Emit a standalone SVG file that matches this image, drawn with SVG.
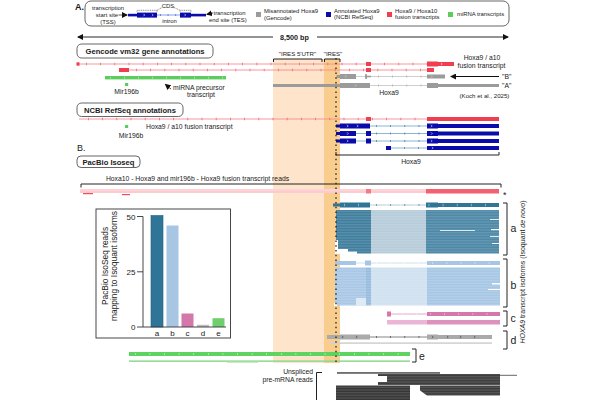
<svg xmlns="http://www.w3.org/2000/svg" width="600" height="400" viewBox="0 0 600 400">
<defs>
<style>
text{font-family:"Liberation Sans",Arial,sans-serif;fill:#1a1a1a}
.lg{font-size:5.9px}
.t7{font-size:6.8px}
.t6{font-size:6.1px}
.b{font-weight:bold}
.ttl{font-size:7.6px;font-weight:bold}
.sbox{fill:#fff;stroke:#555;stroke-width:0.9}
.red{fill:#ef3e4f}
.redL{stroke:#f48d97;stroke-width:0.9;fill:none}
.redT{stroke:#f06a78;stroke-width:2.4;stroke-dasharray:0.8 13.4;fill:none}
.blu{fill:#0b0bab}
.bluL{stroke:#7eaecb;stroke-width:0.9;fill:none}
.bluT{stroke:#4f7fb8;stroke-width:2.2;stroke-dasharray:0.8 13.4;fill:none}
.gry{fill:#9b9b9b}
.gryL{stroke:#c9c9c9;stroke-width:0.9;fill:none}
.gryT{stroke:#b0b0b0;stroke-width:2.2;stroke-dasharray:0.8 13.4;fill:none}
.grn{fill:#5ccc5c}
.wT{stroke:#fff;stroke-width:2.4;stroke-dasharray:0.7 13.4;fill:none}
.brk{stroke:#222;stroke-width:1;fill:none}
.lab{font-size:10.5px}
.ax{font-size:8px}
</style>
<marker id="ah" markerWidth="6" markerHeight="6" refX="5" refY="3" orient="auto" markerUnits="userSpaceOnUse">
<path d="M0,0 L6,3 L0,6 Z" fill="#111"/>
</marker>
<pattern id="strp" width="4" height="1.6" patternUnits="userSpaceOnUse">
<rect width="4" height="0.45" fill="#fff" fill-opacity="0.28"/>
</pattern>
</defs>

<!-- shaded IRES regions -->
<g id="ires-shading">
<rect x="273" y="59" width="51" height="304" fill="#fde4cb"/>
<rect x="324" y="59" width="16" height="304" fill="#f9cd8e"/>
</g>

<!-- Legend -->
<g id="legend">
<text x="75" y="10" font-size="9px" class="b" font-weight="bold">A.</text>
<rect x="85" y="1" width="424" height="25" rx="6" class="sbox"/>
<text class="lg" x="108" y="9.5" text-anchor="middle">transcription</text>
<text class="lg" x="107" y="16.8" text-anchor="middle">start site</text>
<text class="lg" x="108" y="24" text-anchor="middle">(TSS)</text>
<line x1="118.5" y1="15" x2="127" y2="15" stroke="#111" stroke-width="0.7" marker-end="url(#ah)"/>
<rect x="128" y="13.8" width="9" height="2.6" class="blu"/>
<rect x="137" y="12.6" width="20" height="5" class="blu"/>
<line x1="157" y1="15" x2="180" y2="15" stroke="#6f88e6" stroke-width="0.8"/>
<line x1="160" y1="15" x2="180" y2="15" stroke="#4a5ee0" stroke-width="2" stroke-dasharray="0.7 7"/>
<rect x="180" y="12.6" width="11" height="5" class="blu"/>
<rect x="191" y="13.8" width="15" height="2.6" class="blu"/>
<path d="M143.5 13.8l1.2 1.2l-1.2 1.2M152 13.8l1.2 1.2l-1.2 1.2M184.5 13.8l1.2 1.2l-1.2 1.2" stroke="#fff" stroke-width="0.6" fill="none"/>
<path d="M137 11.6V10.3H157V11.6M157 10.3L162 7.5M174 7.5L180 10.3M180 11.6V10.3H191V11.6" stroke="#333" stroke-width="0.6" stroke-dasharray="1 0.8" fill="none"/>
<text class="lg" x="168" y="8.3" text-anchor="middle">CDS</text>
<text class="lg" x="169.5" y="23" text-anchor="middle">intron</text>
<line x1="213" y1="13" x2="207" y2="14.3" stroke="#111" stroke-width="0.7" marker-end="url(#ah)"/>
<text class="lg" x="213.5" y="14.5">transcription</text>
<text class="lg" x="209" y="21.5">end site (TES)</text>
<rect x="256" y="12" width="5" height="5" class="gry"/>
<text class="lg" x="264" y="13">Misannotated Hoxa9</text>
<text class="lg" x="264" y="20">(Gencode)</text>
<rect x="326" y="12" width="5" height="5" class="blu"/>
<text class="lg" x="334" y="12.5">Annotated Hoxa9</text>
<text class="lg" x="334" y="19">(NCBI RefSeq)</text>
<rect x="387" y="12" width="5" height="5" class="red"/>
<text class="lg" x="395" y="12.5">Hoxa9 / Hoxa10</text>
<text class="lg" x="395" y="19">fusion transcripts</text>
<rect x="448" y="12" width="5" height="5" class="grn"/>
<text class="lg" x="457" y="16">miRNA transcripts</text>
</g>

<!-- Scale bar -->
<g id="scale">
<line x1="273" y1="37" x2="78" y2="37" stroke="#111" stroke-width="0.9" marker-end="url(#ah)"/>
<line x1="317" y1="37" x2="508" y2="37" stroke="#111" stroke-width="0.9" marker-end="url(#ah)"/>
<text x="294.5" y="39.6" font-size="7.2px" font-weight="bold" text-anchor="middle">8,500 bp</text>
</g>

<!-- Gencode section -->
<g id="gencode">
<rect x="77" y="44" width="136" height="14" rx="4.5" class="sbox"/>
<text class="ttl" x="145" y="53.8" text-anchor="middle">Gencode vm32 gene annotations</text>
<!-- red row 1 -->
<line x1="78" y1="64" x2="427" y2="64" class="redL"/>
<line x1="86" y1="64" x2="427" y2="64" class="redT"/>
<rect x="76.5" y="62.3" width="3" height="3.4" class="red"/>
<rect x="366" y="62" width="5" height="4" class="red"/>
<rect x="427" y="61.5" width="11" height="5" class="red"/>
<rect x="438" y="62" width="16" height="4" class="red"/>
<path d="M441 62.8l1.2 1.2l-1.2 1.2" stroke="#fff" stroke-width="0.6" fill="none"/>
<!-- red row 2 -->
<line x1="129" y1="70" x2="427" y2="70" class="redL"/>
<line x1="136" y1="70" x2="427" y2="70" class="redT"/>
<rect x="119" y="68" width="10" height="4" class="red"/>
<rect x="366" y="68" width="5" height="4" class="red"/>
<rect x="427" y="68" width="7" height="4" class="red"/>
<!-- green miRNA precursor -->
<rect x="105" y="76" width="121" height="3.4" class="grn"/>
<line x1="110" y1="77.7" x2="226" y2="77.7" stroke="#fff" stroke-width="2" stroke-dasharray="0.6 13.4" stroke-opacity="0.7"/>
<rect x="125" y="83" width="3.2" height="3" class="grn"/>
<text class="t7" x="126.5" y="93.5" text-anchor="middle">Mir196b</text>
<line x1="171" y1="89" x2="165.5" y2="84.5" stroke="#111" stroke-width="0.8" marker-end="url(#ah)"/>
<text class="t7" x="173" y="89.5">miRNA precursor</text>
<text class="t7" x="201" y="97" text-anchor="middle">transcript</text>
<!-- gray B -->
<line x1="356" y1="76.5" x2="427" y2="76.5" class="gryL"/>
<line x1="378" y1="76.5" x2="427" y2="76.5" class="gryT"/>
<rect x="336.5" y="75" width="4" height="3" class="gry"/>
<rect x="340" y="74" width="16" height="5" class="gry"/>
<path d="M365 74.3h2v1.4h4v1.6h-4v1.4h-2Z" class="gry"/>
<rect x="427" y="74.5" width="18" height="4" class="gry"/>
<path d="M345 75.3l1.2 1.2l-1.2 1.2M431 75.3l1.2 1.2l-1.2 1.2" stroke="#ddd" stroke-width="0.6" fill="none"/>
<!-- gray A -->
<rect x="273" y="84" width="67" height="3" class="gry"/>
<line x1="370" y1="85.5" x2="427" y2="85.5" class="gryL"/>
<line x1="378" y1="85.5" x2="427" y2="85.5" class="gryT"/>
<rect x="340" y="83" width="30" height="5" class="gry"/>
<rect x="427" y="83" width="11" height="5" class="gry"/>
<rect x="438" y="84" width="61" height="3" class="gry"/>
<path d="M355 84.3l1.2 1.2l-1.2 1.2" stroke="#ddd" stroke-width="0.6" fill="none"/>
<text class="t7" x="389" y="94.5" text-anchor="middle">Hoxa9</text>
<text class="t7" x="482" y="60" text-anchor="middle">Hoxa9 / a10</text>
<text class="t7" x="481.5" y="68" text-anchor="middle">fusion transcript</text>
<text class="t7" x="502" y="79">"B"</text>
<text class="t7" x="502" y="88">"A"</text>
<text class="t6" x="484.5" y="98" text-anchor="middle">(Koch et al., 2025)</text>
<text class="t6" x="297.5" y="56" text-anchor="middle">"IRES 5'UTR"</text>
<text class="t6" x="333" y="56" text-anchor="middle">"IRES"</text>
</g>

<!-- NCBI section -->
<g id="ncbi">
<rect x="77" y="103" width="106" height="13.5" rx="4.5" class="sbox"/>
<text class="ttl" x="130" y="112.5" text-anchor="middle">NCBI RefSeq annotations</text>
<line x1="79" y1="119" x2="427" y2="119" class="redL"/>
<line x1="88" y1="119" x2="427" y2="119" class="redT"/>
<rect x="366" y="117" width="5" height="4" class="red"/>
<rect x="427" y="117" width="6" height="4" class="red"/>
<rect x="433" y="117" width="66" height="4" class="red"/>
<rect x="125" y="125" width="3.2" height="3" class="grn"/>
<text class="t7" x="131" y="138" text-anchor="middle">Mir196b</text>
<text class="t7" x="146" y="128.5">Hoxa9 / a10 fusion transcript</text>
<!-- blue rows -->
<g>
<line x1="370" y1="126" x2="427" y2="126" class="bluL"/>
<line x1="376" y1="126" x2="427" y2="126" class="bluT"/>
<rect x="336" y="124.5" width="4" height="3" class="blu"/>
<rect x="340" y="123.5" width="30" height="5" class="blu"/>
<rect x="427" y="123.5" width="11" height="5" class="blu"/>
<rect x="438" y="124" width="61" height="4" class="blu"/>
<line x1="356" y1="133.5" x2="427" y2="133.5" class="bluL"/>
<line x1="376" y1="133.5" x2="427" y2="133.5" class="bluT"/>
<rect x="336" y="132" width="4" height="3" class="blu"/>
<rect x="340" y="131" width="16" height="5" class="blu"/>
<rect x="366" y="131" width="5" height="5" class="blu"/>
<rect x="427" y="131" width="11" height="5" class="blu"/>
<rect x="438" y="131.5" width="61" height="4" class="blu"/>
<line x1="356" y1="141" x2="427" y2="141" class="bluL"/>
<line x1="376" y1="141" x2="427" y2="141" class="bluT"/>
<rect x="336" y="139.5" width="4" height="3" class="blu"/>
<rect x="340" y="138.5" width="16" height="5" class="blu"/>
<rect x="366" y="138.5" width="5" height="5" class="blu"/>
<rect x="427" y="138.5" width="11" height="5" class="blu"/>
<rect x="438" y="139" width="61" height="4" class="blu"/>
<line x1="391" y1="148" x2="427" y2="148" class="bluL"/>
<line x1="404" y1="148" x2="427" y2="148" class="bluT"/>
<rect x="386" y="146" width="5" height="4" class="blu"/>
<rect x="427" y="146" width="72" height="4" class="blu"/>
<path d="M347 124.8l1.2 1.2l-1.2 1.2M357 124.8l1.2 1.2l-1.2 1.2M431 124.8l1.2 1.2l-1.2 1.2M347 132.3l1.2 1.2l-1.2 1.2M431 132.3l1.2 1.2l-1.2 1.2M347 139.8l1.2 1.2l-1.2 1.2M431 139.8l1.2 1.2l-1.2 1.2M432 146.8l1.2 1.2l-1.2 1.2" stroke="#fff" stroke-width="0.6" fill="none"/>
</g>
<text class="t7" x="411" y="164" text-anchor="middle">Hoxa9</text>
</g>

<!-- PacBio section -->
<g id="pacbio">
<text x="77" y="151" font-size="9px">B.</text>
<rect x="77" y="156" width="63" height="11.5" rx="4" class="sbox"/>
<text class="ttl" x="108.5" y="164.5" text-anchor="middle">PacBio Isoseq</text>
<text class="t7" x="197.5" y="181" text-anchor="middle">Hoxa10 - Hoxa9 and mir196b - Hoxa9 fusion transcript reads</text>
<rect x="80" y="189" width="419" height="4" fill="#fdd3d7"/>
<rect x="80" y="191.5" width="419" height="1" fill="#fbc3c8"/>
<rect x="366" y="189" width="5" height="4.5" fill="#f27a86"/>
<rect x="426" y="189" width="73" height="4.5" fill="#f4606d"/>
<rect x="83" y="193" width="10" height="1.2" fill="#f04e5e"/>
<rect x="122" y="194" width="8" height="1.2" fill="#f04e5e"/>
<text x="503" y="198" font-size="9px">*</text>
</g>

<!-- isoform a -->
<g id="isoform-a">
<line x1="370" y1="205" x2="426" y2="205" stroke="#b4cad8" stroke-width="1.2"/>
<line x1="376" y1="205" x2="426" y2="205" stroke="#5e8fab" stroke-width="2" stroke-dasharray="0.8 13.4"/>
<rect x="333" y="203.5" width="7" height="3" fill="#2f7597"/>
<rect x="340" y="202.5" width="30" height="5" fill="#2f7597"/>
<rect x="426" y="202.5" width="12" height="5" fill="#2f7597"/>
<rect x="438" y="203" width="61" height="4" fill="#2f7597"/>
<line x1="344" y1="205" x2="499" y2="205" class="wT" stroke-width="1.6" stroke-opacity="0.6"/>
<rect x="336" y="210" width="35" height="43.5" fill="#3d7c9c"/>
<rect x="371" y="210" width="55" height="43.5" fill="#b6cbd9"/>
<rect x="426" y="210" width="73" height="43.5" fill="#4a86a5"/>
<rect x="336" y="210" width="163" height="43.5" fill="url(#strp)"/>
<rect x="335" y="240" width="3" height="14" fill="#fff"/>
<rect x="335" y="249" width="13" height="5" fill="#fff"/>
<rect x="347" y="251.6" width="10" height="2.4" fill="#fff"/>
<rect x="490" y="219" width="10" height="0.8" fill="#fff"/>
<rect x="491" y="229" width="9" height="1.2" fill="#fff"/>
<rect x="490" y="236" width="10" height="0.8" fill="#fff"/>
<rect x="492" y="243" width="8" height="0.9" fill="#fff"/>
<rect x="440" y="230" width="35" height="0.8" fill="#fff"/>
</g>

<!-- isoform b -->
<g id="isoform-b">
<line x1="356" y1="263" x2="427" y2="263" stroke="#cfe0f0" stroke-width="1.2"/>
<rect x="335" y="261" width="21" height="4" fill="#a6c6e4"/>
<rect x="365" y="260.5" width="6" height="5" fill="#a6c6e4"/>
<rect x="427" y="261" width="73" height="4" fill="#a6c6e4"/>
<line x1="376" y1="263" x2="500" y2="263" stroke="#fff" stroke-width="1.6" stroke-dasharray="0.7 13.4" stroke-opacity="0.8"/>
<rect x="335" y="267.5" width="31" height="38" fill="#a8c7e5"/>
<rect x="366" y="267.5" width="5" height="38" fill="#97bbdd"/>
<rect x="371" y="267.5" width="56" height="38" fill="#cfe0f0"/>
<rect x="427" y="267.5" width="73" height="38" fill="#a6c6e4"/>
<rect x="335" y="267.5" width="165" height="38" fill="url(#strp)"/>
<rect x="356" y="298" width="10" height="8" fill="#dfeaf5"/>
<rect x="334" y="303" width="3" height="3" fill="#fff"/>
<rect x="492" y="283" width="8" height="1.5" fill="#fff"/>
<rect x="488" y="289" width="12" height="1" fill="#fff"/>
</g>

<!-- isoform c -->
<g id="isoform-c">
<line x1="391" y1="314" x2="427" y2="314" stroke="#e6a8cc" stroke-width="1"/>
<rect x="387" y="311.5" width="4" height="5" fill="#d477aa"/>
<rect x="427" y="312" width="73" height="4" fill="#d477aa"/>
<line x1="402" y1="314" x2="500" y2="314" stroke="#fff" stroke-width="1.6" stroke-dasharray="0.7 13.4" stroke-opacity="0.7"/>
<rect x="387" y="320" width="40" height="4.5" fill="#ebb6d5"/>
<rect x="427" y="320" width="73" height="4.5" fill="#dc92bd"/>
</g>

<!-- isoform d -->
<g id="isoform-d">
<line x1="370" y1="337" x2="427" y2="337" stroke="#777" stroke-width="0.9"/>
<line x1="376" y1="337" x2="427" y2="337" stroke="#555" stroke-width="2" stroke-dasharray="0.8 13.4"/>
<rect x="327" y="335" width="13" height="4" fill="#aaa"/>
<rect x="340" y="334.5" width="30" height="5" fill="#aaa"/>
<rect x="427" y="334.5" width="11" height="5" fill="#aaa"/>
<rect x="438" y="335" width="54" height="4" fill="#aaa"/>
<path d="M342 335.8l1.2 1.2l-1.2 1.2M356 335.8l1.2 1.2l-1.2 1.2M432 335.8l1.2 1.2l-1.2 1.2M447 335.8l1.2 1.2l-1.2 1.2M460 335.8l1.2 1.2l-1.2 1.2M474 335.8l1.2 1.2l-1.2 1.2" stroke="#333" stroke-width="0.6" fill="none"/>
<rect x="330" y="342.3" width="162" height="1.6" fill="#d2d2d2"/>
</g>

<!-- isoform e (miRNA fusion reads) -->
<g id="isoform-e">
<rect x="129" y="352" width="281" height="4" fill="#5fd35f"/>
<line x1="135" y1="354" x2="410" y2="354" stroke="#fff" stroke-width="2" stroke-dasharray="0.6 14" stroke-opacity="0.7"/>
<rect x="129" y="360.4" width="281" height="1.5" fill="#8fda8f"/>
<rect x="227" y="361.8" width="31" height="1" fill="#b9e8b9"/>
</g>

<!-- unspliced reads -->
<g id="unspliced">
<rect x="337" y="372.3" width="103" height="1.3" fill="#333"/>
<path d="M378 374h122v11h-122v-3h9v-6h-9Z" fill="#3a3a3a"/>
<line x1="500" y1="375.3" x2="517" y2="375.3" stroke="#555" stroke-width="0.9"/>
<path d="M336 385.5h74v14.5h-74Z" fill="#333"/>
<path d="M420 385.5h80v10h-73l-7-5Z" fill="#383838"/>
<rect x="336" y="374" width="164" height="26" fill="url(#strp)"/>
<text class="t7" x="313" y="374" text-anchor="end">Unspliced</text>
<text class="t7" x="313" y="381.5" text-anchor="end">pre-mRNA reads</text>
</g>

<!-- inset bar chart -->
<g id="inset">
<rect x="96" y="209" width="134.5" height="129" fill="#fff" stroke="#333" stroke-width="0.9"/>
<rect x="151" y="215.5" width="12" height="111.5" fill="#2f7597" stroke="#1f5f7f" stroke-width="0.6"/>
<rect x="166.5" y="225.5" width="12" height="101.5" fill="#a6c6e4"/>
<rect x="181.5" y="313.5" width="12" height="13.5" fill="#d477aa"/>
<rect x="197" y="324.8" width="12" height="2.2" fill="#bdbdbd"/>
<rect x="212.5" y="318.2" width="12" height="8.8" fill="#6fcf6f"/>
<line x1="143" y1="216.5" x2="143" y2="327" stroke="#333" stroke-width="0.9"/>
<line x1="143" y1="327" x2="226" y2="327" stroke="#333" stroke-width="0.9"/>
<path d="M137 216.5h6M137 271.8h6M137 327h6" stroke="#333" stroke-width="0.9"/>
<text class="ax" x="135.5" y="219.5" text-anchor="end">50</text>
<text class="ax" x="135.5" y="274.8" text-anchor="end">25</text>
<text class="ax" x="135.5" y="330" text-anchor="end">0</text>
<text class="ax" x="157" y="336" text-anchor="middle">a</text>
<text class="ax" x="172.5" y="336" text-anchor="middle">b</text>
<text class="ax" x="187.5" y="336" text-anchor="middle">c</text>
<text class="ax" x="203" y="336" text-anchor="middle">d</text>
<text class="ax" x="218.5" y="336" text-anchor="middle">e</text>
<text font-size="8.4px" x="108.3" y="266" text-anchor="middle" transform="rotate(-90 108.3 266)">PacBio IsoSeq reads</text>
<text font-size="8.4px" x="116.6" y="266" text-anchor="middle" transform="rotate(-90 116.6 266)">mapping to Isoquant isoforms</text>
</g>

<!-- rotated isoform title -->
<g id="isoform-title">
<text font-size="7px" x="525" y="272" text-anchor="middle" transform="rotate(-90 525 272)"><tspan font-style="italic">HOXA9</tspan> transcript isoforms (Isoquant <tspan font-style="italic">de novo</tspan>)</text>
<text class="lab" x="510.5" y="232">a</text>
<text class="lab" x="510.5" y="288.5">b</text>
<text class="lab" x="510.5" y="322">c</text>
<text class="lab" x="510.5" y="344">d</text>
<text class="lab" x="419" y="360">e</text>
</g>

<!-- connectors: brackets, dotted marker, arrows -->
<g id="connectors">
<line x1="336" y1="58" x2="336" y2="363" stroke="#111" stroke-width="1.2" stroke-dasharray="1.5 3.3"/>
<path d="M273.5 62V59H322V62" class="brk" stroke-width="0.8"/>
<path d="M324.5 62V59H340V62" class="brk" stroke-width="0.8"/>
<line x1="499" y1="76.5" x2="451" y2="76.5" stroke="#111" stroke-width="1" marker-end="url(#ah)"/>
<path d="M336 152V155H499V152" class="brk" stroke-width="0.9"/>
<path d="M81 187.5V184H501V187.5" class="brk" stroke-width="0.9"/>
<path d="M503 203H507V255H503" class="brk"/>
<path d="M503 259H507V307H503" class="brk"/>
<path d="M503 311H507V326H503" class="brk"/>
<path d="M503 331H507V349H503" class="brk"/>
<path d="M412 349H416V362H412" class="brk"/>
<path d="M322 372.5H316.5V400" class="brk"/>
</g>
</svg>
